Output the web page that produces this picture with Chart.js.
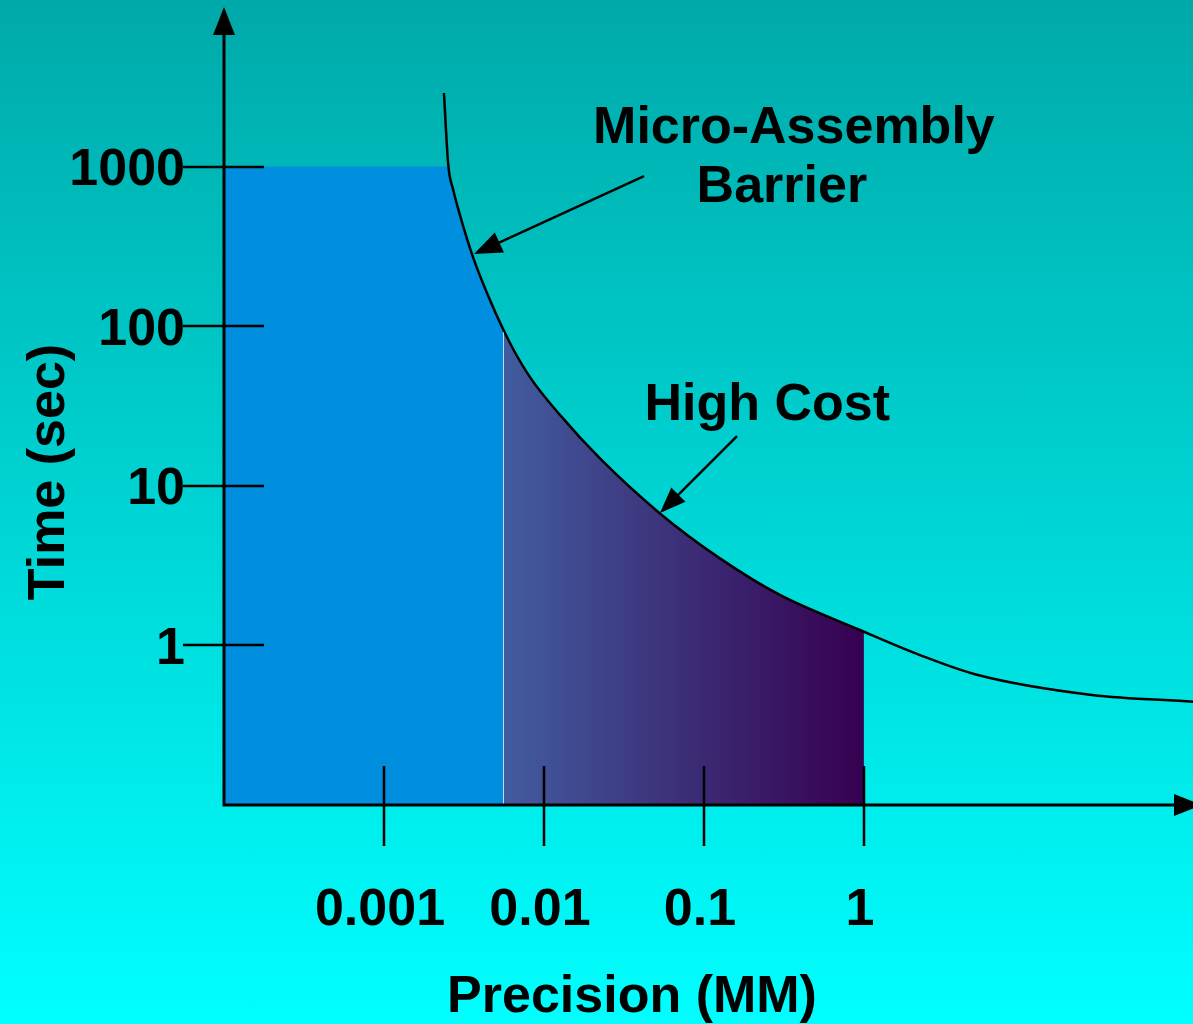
<!DOCTYPE html>
<html>
<head>
<meta charset="utf-8">
<title>Micro-Assembly Barrier</title>
<script src="https://cdn.jsdelivr.net/npm/chart.js@4/dist/chart.umd.min.js"></script>
<style>
  html, body { margin: 0; padding: 0; }
  body {
    width: 1193px; height: 1024px; overflow: hidden;
    background: linear-gradient(to bottom, #00a9a9 0%, #00ffff 100%);
  }
  canvas { display: block; }
</style>
</head>
<body>
<canvas id="barrier-chart" width="1193" height="1024"></canvas>
<script>
  // axis ticks
  const xTickValues = [0.001, 0.01, 0.1, 1];
  const xTickLabels = ["0.001", "0.01", "0.1", "1"];
  const yTickValues = [1, 10, 100, 1000];
  const yTickLabels = ["1", "10", "100", "1000"];

  // the barrier curve, precision (mm) vs time (sec)
  const barrierX = [0.00237, 0.002523, 0.00271, 0.002985, 0.003584, 0.004597, 0.006131, 0.008175,
    0.01259, 0.02239, 0.05309, 0.1259, 0.2985, 0.9441, 2.239, 5.158, 26.6, 114];
  const barrierY = [2892, 1023, 714, 497, 275, 146, 78.5, 48.0,
    27.8, 14.83, 6.71, 3.51, 2.07, 1.249, 0.87, 0.652, 0.489, 0.444];

  // blue area: fast assembly region, up to 1000 s
  const fastX = [0.0001, 0.002535, 0.00271, 0.002985, 0.003584, 0.004597, 0.00558];
  const fastY = [1000, 1000, 714, 497, 275, 146, 95.6];

  // gradient area: high cost region
  const costX = [0.00558, 0.006131, 0.008175, 0.01259, 0.02239, 0.05309, 0.1259, 0.2985, 0.9441, 1];
  const costY = [95.6, 78.5, 48.0, 27.8, 14.83, 6.71, 3.51, 2.07, 1.249, 1.22];

  const pts = (xs, ys) => xs.map((x, i) => ({ x, y: ys[i] }));

  const FONT = "'Liberation Sans', Arial, Helvetica, sans-serif";
  const notes = [
    { text: "Micro-Assembly", x: 0.365, y: 1406 },
    { text: "Barrier", x: 0.307, y: 600 },
    { text: "High Cost", x: 0.249, y: 25.8 },
  ];
  const arrows = [
    { from: [0.0422, 873], to: [0.00365, 283], head: 28, half: 11 },
    { from: [0.161, 20.5], to: [0.0531, 6.75], head: 26, half: 10 },
  ];

  function costGradient(context) {
    const chart = context.chart;
    const { ctx, chartArea, scales } = chart;
    if (!chartArea) return "#3b2d77";
    const x0 = scales.x.getPixelForValue(costX[0]);
    const x1 = scales.x.getPixelForValue(costX[costX.length - 1]);
    const g = ctx.createLinearGradient(x0, 0, x1, 0);
    g.addColorStop(0, "#425c9f");
    g.addColorStop(1, "#360050");
    return g;
  }

  function arrowHead(ctx, fx, fy, tx, ty, len, half) {
    const ang = Math.atan2(ty - fy, tx - fx);
    const bx = tx - len * Math.cos(ang), by = ty - len * Math.sin(ang);
    ctx.beginPath();
    ctx.moveTo(tx, ty);
    ctx.lineTo(bx + half * Math.sin(ang), by - half * Math.cos(ang));
    ctx.lineTo(bx - half * Math.sin(ang), by + half * Math.cos(ang));
    ctx.closePath();
    ctx.fill();
  }

  const decorations = {
    id: "decorations",
    afterDatasetsDraw(chart) {
      const { ctx, chartArea: a, scales } = chart;
      const { x, y } = scales;
      ctx.save();
      ctx.fillStyle = "#000";

      // light seam at the left edge of the cost area
      const seamX = Math.round(x.getPixelForValue(costX[0])) + 0.5;
      ctx.strokeStyle = "rgba(215,230,255,0.85)";
      ctx.lineWidth = 1;
      ctx.beginPath();
      ctx.moveTo(seamX, a.bottom);
      ctx.lineTo(seamX, y.getPixelForValue(costY[0]) + 3);
      ctx.stroke();
      ctx.strokeStyle = "#000";

      // axes with arrows
      ctx.lineWidth = 3;
      ctx.beginPath();
      ctx.moveTo(a.left, a.bottom + 1.5);
      ctx.lineTo(a.left, a.top + 20);
      ctx.moveTo(a.left - 1.5, a.bottom);
      ctx.lineTo(a.right - 15, a.bottom);
      ctx.stroke();
      arrowHead(ctx, a.left, a.bottom, a.left, a.top, 28, 11);
      arrowHead(ctx, a.left, a.bottom, a.right + 9, a.bottom, 28, 11);

      // tick marks crossing the axes
      ctx.lineWidth = 2.5;
      ctx.beginPath();
      yTickValues.forEach((v) => {
        const py = Math.round(y.getPixelForValue(v));
        ctx.moveTo(a.left - 41, py);
        ctx.lineTo(a.left + 40, py);
      });
      xTickValues.forEach((v) => {
        const px = Math.round(x.getPixelForValue(v));
        ctx.moveTo(px, a.bottom - 39);
        ctx.lineTo(px, a.bottom + 41);
      });
      ctx.stroke();

      // callout arrows
      ctx.lineWidth = 2.5;
      arrows.forEach((ar) => {
        const fx = x.getPixelForValue(ar.from[0]), fy = y.getPixelForValue(ar.from[1]);
        const tx = x.getPixelForValue(ar.to[0]), ty = y.getPixelForValue(ar.to[1]);
        ctx.beginPath();
        ctx.moveTo(fx, fy);
        ctx.lineTo(tx + (fx - tx) * 0.1, ty + (fy - ty) * 0.1);
        ctx.stroke();
        arrowHead(ctx, fx, fy, tx, ty, ar.head, ar.half);
      });

      // callout text
      ctx.font = "bold 52px " + FONT;
      ctx.textAlign = "center";
      ctx.textBaseline = "alphabetic";
      notes.forEach((n) => {
        ctx.fillText(n.text, x.getPixelForValue(n.x), y.getPixelForValue(n.y));
      });

      // axis titles
      ctx.fillText("Precision (MM)", 632, 1012);
      ctx.save();
      ctx.translate(64, 472);
      ctx.rotate(-Math.PI / 2);
      ctx.fillText("Time (sec)", 0, 0);
      ctx.restore();

      ctx.restore();
    },
  };

  Chart.defaults.font.family = FONT;
  Chart.defaults.color = "#000";

  new Chart(document.getElementById("barrier-chart"), {
    type: "line",
    data: {
      datasets: [
        {
          label: "Micro-Assembly Barrier",
          data: pts(barrierX, barrierY),
          borderColor: "#000",
          borderWidth: 2.5,
          pointRadius: 0,
          fill: false,
          cubicInterpolationMode: "monotone",
        },
        {
          label: "High Cost",
          data: pts(costX, costY),
          borderWidth: 0,
          pointRadius: 0,
          fill: "start",
          backgroundColor: costGradient,
          cubicInterpolationMode: "monotone",
        },
        {
          label: "Fast",
          data: pts(fastX, fastY),
          borderWidth: 0,
          pointRadius: 0,
          fill: "start",
          backgroundColor: "#008ede",
          tension: 0,
        },
      ],
    },
    options: {
      responsive: false,
      animation: false,
      devicePixelRatio: 1,
      layout: { padding: { top: 7, left: 0, right: 0, bottom: 0 } },
      plugins: { legend: { display: false }, tooltip: { enabled: false } },
      scales: {
        x: {
          type: "logarithmic",
          min: 0.0001,
          max: 114,
          grid: { display: false },
          border: { display: false },
          afterBuildTicks(axis) {
            axis.ticks = xTickValues.map((v) => ({ value: v }));
          },
          afterFit(axis) {
            axis.height = 219;
            axis.paddingLeft = 0;
            axis.paddingRight = 0;
          },
          ticks: {
            autoSkip: false,
            maxRotation: 0,
            padding: 66,
            labelOffset: -4,
            font: { size: 52, weight: "bold" },
            callback(value, index) {
              return xTickLabels[index];
            },
          },
        },
        y: {
          type: "logarithmic",
          min: 0.1,
          max: 10000,
          grid: { display: false },
          border: { display: false },
          afterBuildTicks(axis) {
            axis.ticks = yTickValues.map((v) => ({ value: v }));
          },
          afterFit(axis) {
            axis.width = 224;
            axis.paddingTop = 0;
            axis.paddingBottom = 0;
          },
          ticks: {
            padding: 31,
            labelOffset: 4,
            font: { size: 52, weight: "bold" },
            callback(value, index) {
              return yTickLabels[index];
            },
          },
        },
      },
    },
    plugins: [decorations],
  });
</script>
</body>
</html>
